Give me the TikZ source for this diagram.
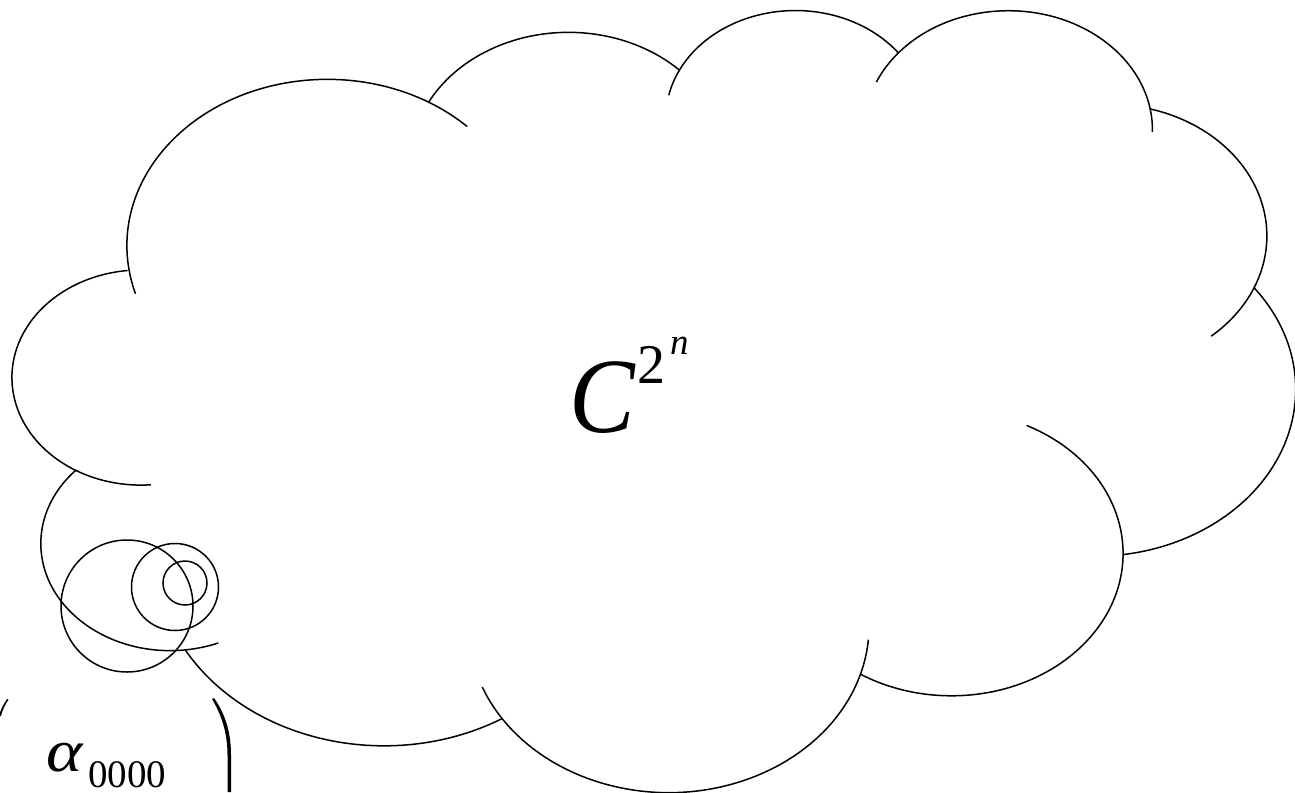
\documentclass[tikz,border=0pt]{standalone}
\usepackage{fontspec}
\setmainfont{Liberation Serif}
\def\sx{0.0296759}
\def\sy{0.0181019}
\newcommand\defarc[5]{%
  \pgfmathsetmacro\aS{#4}%
  \pgfmathsetmacro\aE{#4+#5}%
  \pgfmathsetmacro\pS{atan2(#2*sin(\aS),#3*cos(\aS))}%
  \pgfmathsetmacro\dS{\pS-\aS}%
  \pgfmathsetmacro\dS{\dS-360*round(\dS/360)}%
  \pgfmathsetmacro\tS{-(\aS+\dS)}%
  \pgfmathsetmacro\pE{atan2(#2*sin(\aE),#3*cos(\aE))}%
  \pgfmathsetmacro\dE{\pE-\aE}%
  \pgfmathsetmacro\dE{\dE-360*round(\dE/360)}%
  \pgfmathsetmacro\tE{-(\aE+\dE)}%
  \pgfmathsetmacro\rX{#2*\sx}%
  \pgfmathsetmacro\rY{#3*\sy}%
  \edef\tmp{\noexpand\tikzset{#1/.style={start angle=\tS, end angle=\tE, x radius=\rX pt, y radius=\rY pt}}}\tmp}
% cloud lobes (DrawingML cloud geometry, angles in degrees)
\defarc{lobe1}{6753}{9190}{-190.48748}{123.78053}
\defarc{lobe2}{5333}{7267}{-144.10238}{89.94523}
\defarc{lobe3}{4365}{5945}{-145.80792}{99.72302}
\defarc{lobe4}{4857}{6595}{-130.98607}{117.24173}
\defarc{lobe5}{5333}{7273}{-78.70888}{109.02692}
\defarc{lobe6}{6775}{9220}{-46.26725}{130.269}
\defarc{lobe7}{5785}{7867}{0.62502}{114.03333}
\defarc{lobe8}{6752}{9215}{22.4516}{115.17255}
\defarc{lobe9}{7720}{10543}{66.24263}{75.71102}
\defarc{lobe10}{4360}{5918}{-274.94208}{146.73557}
\defarc{lobe11}{4345}{5945}{-246.8285}{152.51885}
% inner fold arcs
\defarc{fold1}{4345}{5945}{113.1715}{-26.4295}
\defarc{fold2}{4360}{5918}{85.05792}{-11.44747}
\defarc{fold3}{6752}{9215}{137.62415}{14.0811}
\defarc{fold4}{6752}{9215}{22.4516}{-15.99835}
\defarc{fold5}{5785}{7867}{0.62502}{-70.91737}
\defarc{fold6}{5333}{7273}{30.31804}{27.7515}
\defarc{fold7}{4857}{6595}{-13.74434}{14.8589}
\defarc{fold8}{4857}{6595}{-130.98607}{-18.19537}
\defarc{fold9}{4365}{5945}{-145.80792}{-17.68635}
\defarc{fold10}{6753}{9190}{-66.70695}{12.31935}
\defarc{fold11}{6753}{9190}{-190.48748}{-11.85817}
\tikzset{
  outline/.style={line width=1.5pt, black},
  glyph/.style={anchor=base west, inner sep=0pt, outer sep=0pt},
}
\begin{document}
\begin{tikzpicture}[x=1pt,y=1pt]
\useasboundingbox (0,0) rectangle (1295,-792);
\clip (0,0) rectangle (1295,-792);
\coordinate (P0) at ({13+3900*\sx},{-(8+14370*\sy)});
\draw[outline] (P0) arc[lobe1] coordinate (J1) arc[lobe2] coordinate (J2)
  arc[lobe3] coordinate (J3) arc[lobe4] coordinate (J4)
  arc[lobe5] coordinate (J5) arc[lobe6] coordinate (J6)
  arc[lobe7] coordinate (J7) arc[lobe8] coordinate (J8)
  arc[lobe9] coordinate (J9) arc[lobe10] coordinate (J10)
  arc[lobe11] coordinate (J11);
\draw[outline] (J10) arc[fold1];
\draw[outline] (J9) arc[fold2];
\draw[outline] (J8) arc[fold3];
\draw[outline] (J7) arc[fold4];
\draw[outline] (J6) arc[fold5];
\draw[outline] (J5) arc[fold6];
\draw[outline] (J4) arc[fold7];
\draw[outline] (J3) arc[fold8];
\draw[outline] (J2) arc[fold9];
\draw[outline] (J1) arc[fold10];
\draw[outline] (P0) arc[fold11];
% callout bubbles
\node[outline, draw, circle, minimum size=132pt, inner sep=0pt] (b1) at (127,-606) {};
\node[outline, draw, circle, minimum size=87pt, inner sep=0pt] (b2) at (175,-587) {};
\node[outline, draw, circle, minimum size=44pt, inner sep=0pt] (b3) at (185,-583) {};
% label
\node[glyph, xscale=0.92, transform shape, font=\fontsize{107}{107}\selectfont\itshape] (C) at (569,-432) {C};
\node[glyph, font=\fontsize{56}{56}\selectfont] (two) at (637,-383) {2};
\node[glyph, font=\fontsize{37}{37}\selectfont\itshape] (n) at (670,-354) {n};
% partial matrix
\node[glyph, xscale=1.15, transform shape, font=\fontsize{60}{60}\selectfont\itshape] (alpha) at (46,-771) {α};
\node[glyph, font=\fontsize{39}{39}\selectfont] (idx) at (88,-787.5) {0000};
\fill (212,-699) .. controls (221,-714) and (227.5,-732) .. (227.5,-755) -- (227.5,-792)
  -- (231,-792) -- (231,-755) .. controls (231,-730) and (224,-712) .. (214,-698) -- cycle;
\fill (7,-699) .. controls (3,-705) and (0,-711) .. (-1,-716) -- (1,-716) .. controls (2,-711) and (5,-705) .. (8.5,-699.5) -- cycle;
\end{tikzpicture}
\end{document}
